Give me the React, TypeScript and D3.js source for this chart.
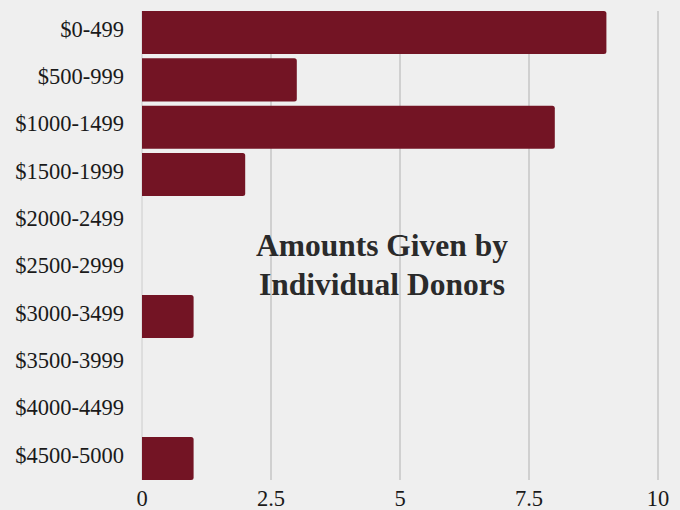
import React from "react";
import * as d3 from "d3";

const categories = [
  "$0-499",
  "$500-999",
  "$1000-1499",
  "$1500-1999",
  "$2000-2499",
  "$2500-2999",
  "$3000-3499",
  "$3500-3999",
  "$4000-4499",
  "$4500-5000",
];
const donors = [9, 3, 8, 2, 0, 0, 1, 0, 0, 1];
const xTicks = [0, 2.5, 5, 7.5, 10];
const titleLines = ["Amounts Given by", "Individual Donors"];

const W = 680;
const H = 510;
const left = 142;
const right = 658;
const top = 11;
const bottom = 480;
const barColor = "#731424";
const font = "Times New Roman, Times, serif";

function barPath(x0: number, y: number, w: number, h: number, r: number) {
  if (w <= 0) return "";
  const rr = Math.min(r, w / 2, h / 2);
  return `M${x0},${y}H${x0 + w - rr}Q${x0 + w},${y} ${x0 + w},${y + rr}V${y + h - rr}Q${x0 + w},${y + h} ${x0 + w - rr},${y + h}H${x0}Z`;
}

export default function App() {
  const x = d3.scaleLinear().domain([0, 10]).range([left, right]);
  const y = d3
    .scaleBand<string>()
    .domain(categories)
    .range([top, bottom])
    .paddingInner(0.09)
    .paddingOuter(0);

  return (
    <div style={{ position: "fixed", left: 0, top: 0, width: W, height: H }}>
      <svg width={W} height={H} style={{ display: "block", background: "#efefef" }}>
        <rect x={0} y={0} width={W} height={H} fill="#efefef" />
        {xTicks.map((t) => (
          <line
            key={"g" + t}
            x1={x(t)}
            x2={x(t)}
            y1={top}
            y2={bottom}
            stroke={t === 0 ? "#cccccc" : "#c8c8c8"}
            strokeWidth={t === 0 ? 1 : 1.6}
          />
        ))}
        {categories.map((c, i) => (
          <path
            key={"b" + c}
            d={barPath(x(0), y(c)!, x(donors[i]) - x(0), y.bandwidth(), 2.5)}
            fill={barColor}
          />
        ))}
        {categories.map((c) => (
          <text
            key={"l" + c}
            x={124}
            y={y(c)! + y.bandwidth() / 2}
            dy="0.19em"
            textAnchor="end"
            style={{ fontFamily: font }}
            fontSize={22.5}
            fill="#1a1a1a"
          >
            {c}
          </text>
        ))}
        {xTicks.map((t) => (
          <text
            key={"t" + t}
            x={x(t)}
            y={506}
            textAnchor="middle"
            style={{ fontFamily: font }}
            fontSize={22.5}
            fill="#1a1a1a"
          >
            {String(t)}
          </text>
        ))}
        {titleLines.map((s, i) => (
          <text
            key={"title" + i}
            x={382}
            y={256 + i * 39}
            textAnchor="middle"
            style={{ fontFamily: font }}
            fontWeight="bold"
            fontSize={31.5}
            fill="#2a2a2a"
          >
            {s}
          </text>
        ))}
      </svg>
    </div>
  );
}
